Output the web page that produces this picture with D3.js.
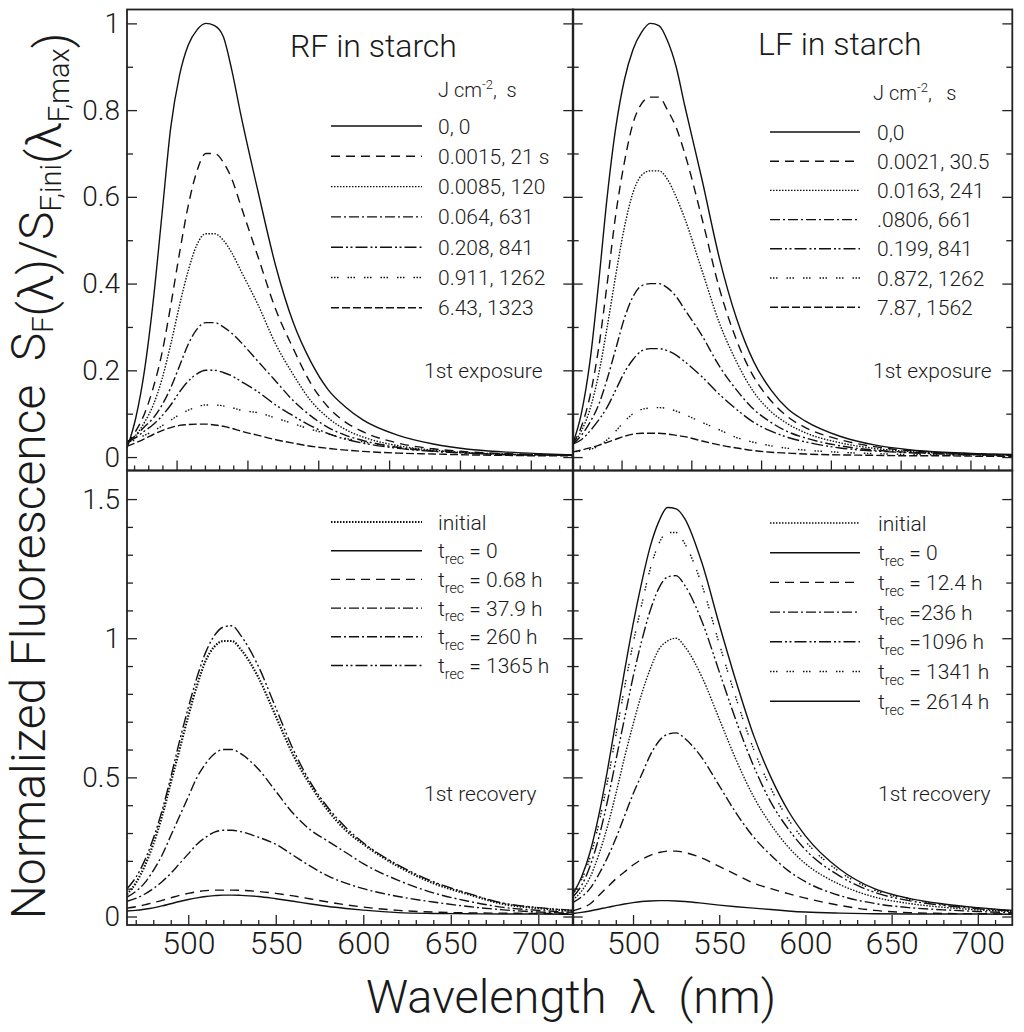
<!DOCTYPE html>
<html>
<head>
<meta charset="utf-8">
<script src="https://cdn.jsdelivr.net/npm/d3@7"></script>
<style>
  body { margin: 0; background: #fff; }
  text { font-family: Roboto, "Liberation Sans", sans-serif; font-weight: 300; fill: #1a1a1a; white-space: pre; }
</style>
</head>
<body>
<div id="chart"></div>
<script>
// ---------------- data ----------------
const wavelength = [465,470,475,480,485,490,495,500,505,510,515,520,525,530,540,550,560,570,580,590,600,620,640,660,680,700,720];

// RF in starch, 1st exposure
const rfExposureLabels = ["0, 0","0.0015, 21 s","0.0085, 120","0.064, 631","0.208, 841","0.911, 1262","6.43, 1323"];
const rfExposure = [
  [0.02,0.09,0.20,0.36,0.56,0.76,0.88,0.95,0.985,1.0,0.995,0.97,0.89,0.79,0.61,0.44,0.31,0.22,0.155,0.115,0.085,0.05,0.03,0.018,0.012,0.008,0.005],
  [0.03,0.06,0.10,0.16,0.24,0.35,0.47,0.58,0.66,0.70,0.70,0.68,0.64,0.58,0.46,0.34,0.25,0.17,0.115,0.08,0.058,0.032,0.019,0.012,0.008,0.006,0.004],
  [0.03,0.05,0.08,0.12,0.18,0.26,0.35,0.43,0.49,0.515,0.515,0.50,0.47,0.43,0.35,0.26,0.19,0.13,0.09,0.063,0.046,0.026,0.016,0.01,0.007,0.005,0.004],
  [0.035,0.05,0.07,0.09,0.12,0.16,0.21,0.26,0.295,0.31,0.31,0.30,0.285,0.265,0.22,0.175,0.13,0.095,0.068,0.05,0.038,0.022,0.014,0.009,0.006,0.005,0.004],
  [0.035,0.045,0.06,0.075,0.095,0.12,0.15,0.175,0.192,0.20,0.20,0.195,0.187,0.175,0.15,0.12,0.095,0.072,0.054,0.041,0.032,0.02,0.013,0.009,0.006,0.005,0.004],
  [0.035,0.04,0.05,0.06,0.072,0.085,0.098,0.108,0.116,0.12,0.12,0.118,0.114,0.108,0.102,0.09,0.077,0.064,0.053,0.043,0.035,0.023,0.015,0.01,0.007,0.005,0.004],
  [0.025,0.033,0.042,0.052,0.061,0.068,0.073,0.075,0.076,0.076,0.074,0.071,0.066,0.06,0.05,0.04,0.032,0.025,0.02,0.016,0.013,0.009,0.007,0.005,0.004,0.003,0.003]
];

// LF in starch, 1st exposure
const lfExposureLabels = ["0,0","0.0021, 30.5","0.0163, 241",".0806, 661","0.199, 841","0.872, 1262","7.87, 1562"];
const lfExposure = [
  [0.03,0.10,0.22,0.40,0.60,0.76,0.87,0.94,0.98,1.0,0.995,0.96,0.90,0.81,0.64,0.46,0.32,0.22,0.155,0.11,0.083,0.048,0.028,0.017,0.011,0.008,0.006],
  [0.03,0.07,0.14,0.25,0.40,0.56,0.68,0.77,0.815,0.83,0.83,0.80,0.76,0.70,0.55,0.39,0.27,0.185,0.13,0.092,0.068,0.04,0.024,0.015,0.01,0.007,0.005],
  [0.03,0.06,0.11,0.19,0.30,0.42,0.53,0.61,0.65,0.66,0.66,0.64,0.60,0.55,0.43,0.31,0.22,0.15,0.105,0.076,0.056,0.033,0.02,0.013,0.009,0.006,0.005],
  [0.03,0.05,0.08,0.12,0.18,0.25,0.32,0.37,0.395,0.40,0.40,0.39,0.37,0.34,0.28,0.21,0.155,0.11,0.08,0.058,0.044,0.026,0.016,0.011,0.008,0.006,0.005],
  [0.03,0.04,0.06,0.085,0.115,0.155,0.195,0.225,0.245,0.25,0.25,0.245,0.235,0.22,0.185,0.145,0.11,0.08,0.06,0.045,0.035,0.021,0.014,0.01,0.007,0.005,0.004],
  [0.012,0.014,0.018,0.025,0.04,0.06,0.082,0.1,0.11,0.113,0.114,0.112,0.106,0.098,0.08,0.063,0.045,0.034,0.026,0.02,0.016,0.011,0.008,0.006,0.005,0.004,0.003],
  [0.012,0.016,0.021,0.027,0.034,0.041,0.048,0.053,0.055,0.055,0.055,0.053,0.05,0.047,0.037,0.028,0.021,0.015,0.011,0.009,0.007,0.005,0.004,0.003,0.003,0.002,0.002]
];

// RF in starch, 1st recovery
const rfRecoveryLabels = ["initial","= 0","= 0.68 h","= 37.9 h","= 260 h","= 1365 h"];
const rfRecovery = [
  [0.08,0.12,0.18,0.26,0.36,0.48,0.60,0.72,0.83,0.92,0.97,0.99,0.99,0.96,0.86,0.72,0.58,0.47,0.38,0.31,0.26,0.18,0.12,0.08,0.045,0.03,0.02],
  [0.02,0.022,0.026,0.031,0.038,0.046,0.054,0.061,0.067,0.072,0.075,0.077,0.077,0.076,0.072,0.064,0.055,0.045,0.036,0.029,0.023,0.014,0.011,0.01,0.009,0.009,0.008],
  [0.03,0.035,0.042,0.05,0.058,0.067,0.076,0.083,0.089,0.093,0.095,0.095,0.095,0.094,0.09,0.083,0.074,0.063,0.052,0.042,0.034,0.022,0.016,0.013,0.012,0.011,0.01],
  [0.055,0.065,0.08,0.10,0.125,0.155,0.19,0.225,0.26,0.285,0.303,0.31,0.31,0.305,0.285,0.26,0.22,0.18,0.145,0.12,0.10,0.072,0.052,0.036,0.024,0.016,0.012],
  [0.07,0.09,0.12,0.165,0.22,0.29,0.36,0.43,0.50,0.55,0.585,0.60,0.60,0.585,0.53,0.45,0.37,0.31,0.27,0.23,0.19,0.13,0.085,0.055,0.033,0.022,0.015],
  [0.10,0.14,0.20,0.28,0.38,0.50,0.63,0.75,0.86,0.95,1.01,1.04,1.045,1.01,0.90,0.75,0.60,0.48,0.39,0.32,0.265,0.185,0.125,0.083,0.048,0.032,0.022]
];

// LF in starch, 1st recovery
const lfRecoveryLabels = ["initial","= 0","= 12.4 h","=236 h","=1096 h","= 1341 h","= 2614 h"];
const lfRecovery = [
  [0.06,0.09,0.14,0.22,0.32,0.44,0.57,0.69,0.80,0.89,0.96,0.99,1.0,0.97,0.86,0.71,0.56,0.43,0.33,0.25,0.19,0.115,0.07,0.047,0.033,0.024,0.018],
  [0.011,0.015,0.02,0.026,0.033,0.039,0.045,0.05,0.054,0.056,0.057,0.057,0.056,0.054,0.048,0.041,0.035,0.03,0.025,0.02,0.016,0.012,0.01,0.009,0.009,0.009,0.008],
  [0.02,0.03,0.045,0.075,0.105,0.135,0.16,0.185,0.205,0.22,0.23,0.235,0.235,0.23,0.21,0.18,0.15,0.12,0.10,0.082,0.066,0.04,0.022,0.014,0.011,0.01,0.009],
  [0.05,0.07,0.10,0.15,0.21,0.28,0.36,0.44,0.51,0.58,0.63,0.655,0.66,0.64,0.57,0.47,0.37,0.285,0.22,0.165,0.125,0.075,0.047,0.032,0.024,0.018,0.014],
  [0.07,0.11,0.18,0.28,0.41,0.56,0.71,0.86,0.99,1.10,1.18,1.22,1.225,1.19,1.06,0.88,0.70,0.54,0.41,0.315,0.24,0.145,0.087,0.057,0.04,0.028,0.02],
  [0.08,0.13,0.21,0.33,0.48,0.65,0.82,0.98,1.12,1.25,1.34,1.38,1.38,1.34,1.19,0.98,0.78,0.60,0.46,0.35,0.27,0.16,0.095,0.062,0.043,0.03,0.021],
  [0.08,0.14,0.23,0.36,0.52,0.70,0.88,1.05,1.20,1.33,1.42,1.47,1.465,1.43,1.27,1.05,0.84,0.65,0.50,0.38,0.29,0.17,0.10,0.065,0.045,0.032,0.022]
];

// tick values
const xMajorTicks = [500, 550, 600, 650, 700];
const xMinorTicks = [470,480,490,510,520,530,540,560,570,580,590,610,620,630,640,660,670,680,690,710];
const yTopMajor = [0, 0.2, 0.4, 0.6, 0.8, 1];
const yTopMinor = [0.1, 0.3, 0.5, 0.7, 0.9];
const yBotMajor = [0, 0.5, 1, 1.5];
const yBotMinor = [0.1,0.2,0.3,0.4,0.6,0.7,0.8,0.9,1.1,1.2,1.3,1.4];
// the upper panels carry unlabeled ticks on their own spacing
const topAxisMajor = [0, 5, 10, 15, 20, 25];
const topAxisMinor = [-3,-2,-1,1,2,3,4,6,7,8,9,11,12,13,14,16,17,18,19,21,22,23,24,26,27];

// ---------------- styles ----------------
const dash = {
  solid: null,
  dashed: "9,6",
  dotted: "1.5,1.5",
  dashDot: "10,3,2,3",
  dashDotDot: "12,3,2,2.5,2,3",
  sparse: "1.5,1.5,1.5,1.5,1.5,9",
  longDash: "8,3"
};
const exposureStyles = ["solid","dashed","dotted","dashDot","dashDotDot","sparse","longDash"];
const rfRecoveryStyles = ["dotted","solid","dashed","dashDot","dashDot","dashDotDot"];
const lfRecoveryStyles = ["dotted","solid","dashed","dashDot","dashDotDot","sparse","solid"];

// ---------------- layout ----------------
const W = 1024, H = 1032;
const colX = [[127, 573.3], [572.7, 1012.3]];
const rowY = [[9.5, 470.5], [470.5, 925]];

const svg = d3.select("#chart").append("svg")
  .attr("width", W).attr("height", H)
  .style("display", "block");

const xDomain = [465, 720];
const yTopScale = d3.scaleLinear().domain([-0.031, 1.032]).range([rowY[0][1], rowY[0][0]]);
const yBotScale = d3.scaleLinear().domain([-0.0305, 1.6027]).range([rowY[1][1], rowY[1][0]]);

const panels = [
  {col: 0, row: 0, y: yTopScale, series: rfExposure, labels: rfExposureLabels, styles: exposureStyles,
   title: "RF in starch", titleX: 290, titleY: 57, note: "1st exposure", noteX: 424, noteY: 378,
   legX: [331, 422, 438], legY0: 126, legDY: 30.3, header: [438, 97]},
  {col: 1, row: 0, y: yTopScale, series: lfExposure, labels: lfExposureLabels, styles: exposureStyles,
   title: "LF in starch", titleX: 758, titleY: 55, note: "1st exposure", noteX: 873, noteY: 378,
   legX: [770, 860, 877], legY0: 132, legDY: 29.2, header: [873, 100]},
  {col: 0, row: 1, y: yBotScale, series: rfRecovery, labels: rfRecoveryLabels, styles: rfRecoveryStyles,
   note: "1st recovery", noteX: 424, noteY: 801,
   legX: [331, 422, 438], legY0: 522, legDY: 28.7},
  {col: 1, row: 1, y: yBotScale, series: lfRecovery, labels: lfRecoveryLabels, styles: lfRecoveryStyles,
   note: "1st recovery", noteX: 878, noteY: 801,
   legX: [770, 860, 878], legY0: 523, legDY: 29.7}
];

// write a label, turning a leading "=" into the t_rec form
function writeLabel(t, label, size) {
  if (label.startsWith("=")) {
    t.append("tspan").text("t");
    t.append("tspan").attr("dy", size * 0.28).style("font-size", (size * 0.68) + "px").text("rec");
    t.append("tspan").attr("dy", -size * 0.28).text(" " + label);
  } else {
    t.text(label);
  }
}

panels.forEach((p, pi) => {
  const [x0, x1] = colX[p.col];
  const [y0, y1] = rowY[p.row];
  const x = d3.scaleLinear().domain(xDomain).range([x0, x1]);
  const y = p.y;
  const g = svg.append("g");

  g.append("clipPath").attr("id", "clip" + pi)
    .append("rect").attr("x", x0).attr("y", y0).attr("width", x1 - x0).attr("height", y1 - y0);

  // curves
  const line = d3.line()
    .x((d, i) => x(wavelength[i]))
    .y(d => y(d))
    .curve(d3.curveMonotoneX);

  const thick = i => (p.row === 1 && p.col === 0 && i === 0) ? 2.2 : 1.4;

  g.append("g").attr("clip-path", `url(#clip${pi})`)
    .selectAll("path")
    .data(p.series)
    .join("path")
      .attr("d", line)
      .attr("fill", "none")
      .attr("stroke", "#111")
      .attr("stroke-width", (d, i) => thick(i))
      .attr("stroke-dasharray", (d, i) => dash[p.styles[i]]);

  // y ticks on left (inward) and right (inward)
  const left = g.append("g").attr("transform", `translate(${x0},0)`);
  const right = g.append("g").attr("transform", `translate(${x1},0)`);
  const major = p.row === 0 ? yTopMajor : yBotMajor;
  const minor = p.row === 0 ? yTopMinor : yBotMinor;

  left.append("g").call(d3.axisLeft(y).tickValues(minor).tickSize(-6).tickFormat(""));
  left.append("g").call(d3.axisLeft(y).tickValues(major).tickSize(-10).tickPadding(7)
    .tickFormat(p.col === 0 ? d3.format("~g") : ""));
  right.append("g").call(d3.axisRight(y).tickValues(minor).tickSize(-6).tickFormat(""));
  right.append("g").call(d3.axisRight(y).tickValues(major).tickSize(-10).tickFormat(""));

  // x ticks on the bottom edge of each panel
  const bottom = g.append("g").attr("transform", `translate(0,${y1})`);
  if (p.row === 1) {
    bottom.append("g").call(d3.axisBottom(x).tickValues(xMinorTicks).tickSize(-5).tickFormat(""));
    bottom.append("g").call(d3.axisBottom(x).tickValues(xMajorTicks).tickSize(-10).tickPadding(6)
      .tickFormat(d3.format("d")));
  } else {
    const tx = d3.scaleLinear().domain([-3.5, 28]).range([x0, x1]);
    bottom.append("g").call(d3.axisBottom(tx).tickValues(topAxisMinor).tickSize(-5).tickFormat(""));
    bottom.append("g").call(d3.axisBottom(tx).tickValues(topAxisMajor).tickSize(-10).tickFormat(""));
  }

  g.selectAll(".domain").remove();
  g.selectAll(".tick line").attr("stroke", "#222").attr("stroke-width", 1.3);
  left.selectAll(".tick text").style("font-size", "28px").attr("fill", "#1a1a1a");
  bottom.selectAll(".tick text").style("font-size", "32px").attr("fill", "#1a1a1a");

  // frame
  g.append("rect")
    .attr("x", x0).attr("y", y0).attr("width", x1 - x0).attr("height", y1 - y0)
    .attr("fill", "none").attr("stroke", "#222").attr("stroke-width", 1.8);

  // titles and notes
  if (p.title) {
    g.append("text").attr("x", p.titleX).attr("y", p.titleY)
      .style("font-size", "32px").text(p.title);
  }
  g.append("text").attr("x", p.noteX).attr("y", p.noteY)
    .style("font-size", "21px").text(p.note);

  if (p.header) {
    const h = g.append("text").attr("x", p.header[0]).attr("y", p.header[1]).style("font-size", "20px");
    h.append("tspan").text("J cm");
    h.append("tspan").attr("dy", -8).style("font-size", "13px").text("-2");
    h.append("tspan").attr("dy", 8).text(p.col === 0 ? ",  s" : ",   s");
  }

  // legend
  const leg = g.append("g");
  p.labels.forEach((lab, i) => {
    const ly = p.legY0 + i * p.legDY;
    leg.append("line")
      .attr("x1", p.legX[0]).attr("x2", p.legX[1])
      .attr("y1", ly).attr("y2", ly)
      .attr("stroke", "#111")
      .attr("stroke-width", thick(i))
      .attr("stroke-dasharray", dash[p.styles[i]]);
    const t = leg.append("text").attr("x", p.legX[2]).attr("y", ly + 7.5).style("font-size", "21px");
    writeLabel(t, lab, 21);
  });
});

// axis titles
const yt = svg.append("text")
  .attr("transform", "translate(45,476) rotate(-90)")
  .attr("text-anchor", "middle")
  .style("font-size", "48px");
const sub = (txt) => {
  yt.append("tspan").attr("dy", 8).style("font-size", "29px").text(txt);
  yt.append("tspan").attr("dy", -8).text("");
};
yt.append("tspan").text("Normalized Fluorescence  S");
sub("F");
yt.append("tspan").text("(λ)/S");
sub("F,ini");
yt.append("tspan").text("(λ");
sub("F,max");
yt.append("tspan").text(")");

svg.append("text")
  .attr("x", 571).attr("y", 1013)
  .attr("text-anchor", "middle")
  .style("font-size", "47px")
  .text("Wavelength  λ  (nm)");
</script>
</body>
</html>
